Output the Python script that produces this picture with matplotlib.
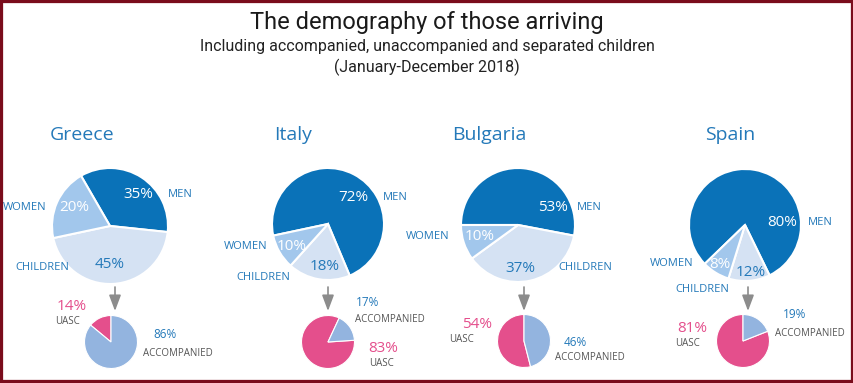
import matplotlib.pyplot as plt
from matplotlib.patches import Rectangle

# data
countries = ['Greece', 'Italy', 'Bulgaria', 'Spain']
men = [35, 72, 53, 80]
children = [45, 18, 37, 12]
women = [20, 10, 10, 8]
uasc = [14, 83, 54, 81]
accompanied = [86, 17, 46, 19]

W, H = 854, 383

# layout (image pixel coords, y measured from top)
big_center = [(110, 226), (328, 224), (518, 225), (745, 225)]
big_radius = [58, 56, 57, 56]
big_start = [120, 192, 180, 224]
small_center = [(111, 342), (328, 342), (524, 341), (743, 341)]
small_radius = 26.5
small_start = [90, 65, 90, 90]
title_pos = [(82, 135), (293, 135), (489, 135), (730, 135)]
arrow_x = [115, 328, 524, 748]

# label positions
men_pct_pos = [(138, 195), (353, 198), (553, 208), (782, 223)]
men_lab_pos = [(180, 195), (395, 198), (589, 208), (820, 223)]
wom_pct_pos = [(74, 208), (292, 247), (480, 237), (720, 264)]
wom_lab_pos = [(25, 208), (246, 247), (428, 237), (672, 264)]
chi_pct_pos = [(110, 265), (325, 267), (520, 268), (751, 273)]
chi_lab_pos = [(42, 267), (263, 277), (585, 268), (702, 289)]
uasc_pct_pos = [(72, 306), (383, 349), (477, 325), (692, 328)]
uasc_lab_pos = [(68, 322), (382, 363), (462, 340), (688, 343)]
acc_pct_pos = [(165, 335), (368, 302), (575, 342), (795, 315)]
acc_lab_pos = [(178, 353), (390, 319), (590, 358), (810, 333)]

C_MEN = '#0a72b8'
C_WOMEN = '#a2c7ec'
C_CHILD = '#d5e2f3'
C_PINK = '#e44f8c'
C_ACC = '#93b4df'
C_BLUE = '#2479b9'
C_GRAY = '#555555'
LBL = 'Open Sans'


def Y(y):
    return H - y


fig = plt.figure(figsize=(W / 100, H / 100), dpi=100)
ax = fig.add_axes([0, 0, 1, 1])

for i in range(4):
    cx, cy = big_center[i]
    ax.pie([men[i], children[i], women[i]], colors=[C_MEN, C_CHILD, C_WOMEN],
           center=(cx, Y(cy)), radius=big_radius[i], startangle=big_start[i],
           counterclock=False, wedgeprops=dict(edgecolor='white', linewidth=1.5))
    sx, sy = small_center[i]
    ax.pie([uasc[i], accompanied[i]], colors=[C_PINK, C_ACC],
           center=(sx, Y(sy)), radius=small_radius, startangle=small_start[i],
           counterclock=True, wedgeprops=dict(edgecolor='white', linewidth=0.8))

    ax.text(title_pos[i][0], Y(title_pos[i][1]), countries[i], ha='center', va='center',
            fontsize=14, color=C_BLUE, family=LBL)

    ax.text(men_pct_pos[i][0], Y(men_pct_pos[i][1]), f'{men[i]}%', ha='center', va='center',
            fontsize=11, color='white', family=LBL)
    ax.text(men_lab_pos[i][0], Y(men_lab_pos[i][1]), 'MEN', ha='center', va='center',
            fontsize=8, color=C_BLUE, family=LBL)
    ax.text(wom_pct_pos[i][0], Y(wom_pct_pos[i][1]), f'{women[i]}%', ha='center', va='center',
            fontsize=11, color='white', family=LBL)
    ax.text(wom_lab_pos[i][0], Y(wom_lab_pos[i][1]), 'WOMEN', ha='center', va='center',
            fontsize=8, color=C_BLUE, family=LBL)
    ax.text(chi_pct_pos[i][0], Y(chi_pct_pos[i][1]), f'{children[i]}%', ha='center', va='center',
            fontsize=11, color=C_BLUE, family=LBL)
    ax.text(chi_lab_pos[i][0], Y(chi_lab_pos[i][1]), 'CHILDREN', ha='center', va='center',
            fontsize=8, color=C_BLUE, family=LBL)

    ax.text(uasc_pct_pos[i][0], Y(uasc_pct_pos[i][1]), f'{uasc[i]}%', ha='center', va='center',
            fontsize=11, color=C_PINK, family=LBL)
    ax.text(uasc_lab_pos[i][0], Y(uasc_lab_pos[i][1]), 'UASC', ha='center', va='center',
            fontsize=7, color=C_GRAY, family=LBL)
    ax.text(acc_pct_pos[i][0], Y(acc_pct_pos[i][1]), f'{accompanied[i]}%', ha='center', va='center',
            fontsize=8.5, color=C_BLUE, family=LBL)
    ax.text(acc_lab_pos[i][0], Y(acc_lab_pos[i][1]), 'ACCOMPANIED', ha='center', va='center',
            fontsize=7, color=C_GRAY, family=LBL)

    ax.annotate('', xy=(arrow_x[i], Y(311)), xytext=(arrow_x[i], Y(287)),
                arrowprops=dict(arrowstyle='-|>,head_width=0.3,head_length=0.8',
                                color='#8c8c8c', lw=1.2, mutation_scale=12,
                                shrinkA=0, shrinkB=0))

ax.text(W / 2, Y(22), 'The demography of those arriving', ha='center', va='center',
        fontsize=17, color='#1a1a1a', family='Roboto', fontweight='normal')
ax.text(W / 2, Y(46), 'Including accompanied, unaccompanied and separated children',
        ha='center', va='center', fontsize=11.5, color='#222222', family='Roboto')
ax.text(W / 2, Y(67), '(January-December 2018)', ha='center', va='center',
        fontsize=11.5, color='#222222', family='Roboto')

ax.set_xlim(0, W)
ax.set_ylim(0, H)
ax.set_aspect('equal')
ax.axis('off')

fig.add_artist(Rectangle((0, 0), 1, 1, transform=fig.transFigure, fill=False,
                         edgecolor='#7a0c1c', linewidth=4.5))

fig.savefig('out.png', dpi=100, facecolor='white')
